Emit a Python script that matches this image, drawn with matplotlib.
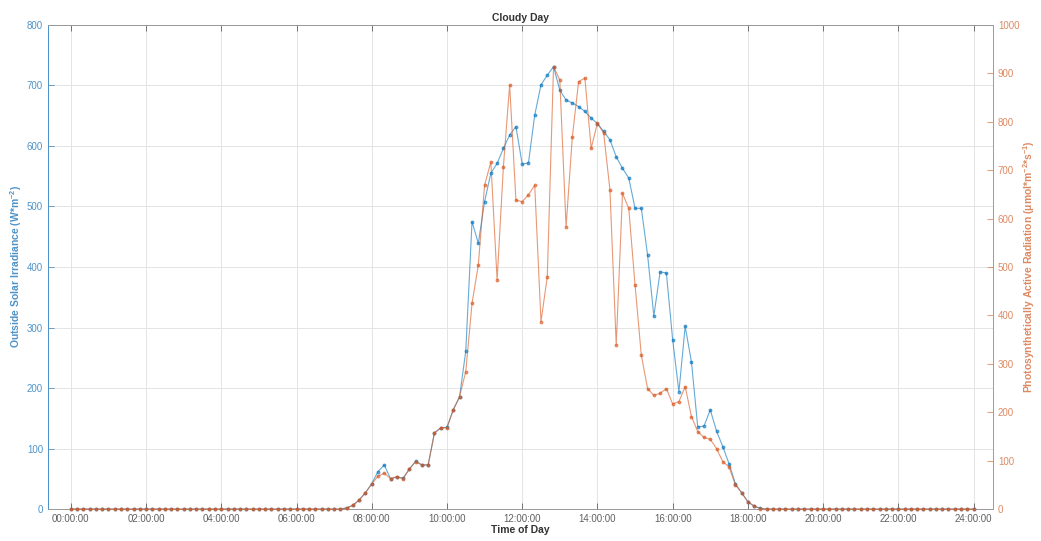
import matplotlib
matplotlib.use("Agg")
import matplotlib.pyplot as plt
import numpy as np
from matplotlib.ticker import FixedLocator, FuncFormatter

plt.rcParams['font.family'] = ['Liberation Sans', 'DejaVu Sans']
plt.rcParams['mathtext.default'] = 'regular'

# samples every 10 minutes, one row per hour (:00 :10 :20 :30 :40 :50)
step_minutes = 10
irradiance = [
    0, 0, 0, 0, 0, 0,          # 00
    0, 0, 0, 0, 0, 0,          # 01
    0, 0, 0, 0, 0, 0,          # 02
    0, 0, 0, 0, 0, 0,          # 03
    0, 0, 0, 0, 0, 0,          # 04
    0, 0, 0, 0, 0, 0,          # 05
    0, 0, 0, 0, 0, 0,          # 06
    0, 0, 2, 6, 15, 27,        # 07
    42, 62, 73, 50, 53, 51,    # 08
    66, 79, 73, 73, 126, 134,  # 09
    135, 164, 185, 261, 475, 439,   # 10
    508, 555, 571, 596, 618, 632,   # 11
    570, 572, 651, 701, 717, 731,   # 12
    692, 676, 671, 665, 657, 646,   # 13
    637, 624, 610, 582, 563, 547,   # 14
    497, 497, 420, 319, 392, 390,   # 15
    280, 194, 302, 243, 136, 137,   # 16
    164, 129, 103, 75, 42, 27,      # 17
    12, 5, 1, 0, 0, 0,         # 18
    0, 0, 0, 0, 0, 0,          # 19
    0, 0, 0, 0, 0, 0,          # 20
    0, 0, 0, 0, 0, 0,          # 21
    0, 0, 0, 0, 0, 0,          # 22
    0, 0, 0, 0, 0, 0,          # 23
    0,                         # 24
]
par = [
    0, 0, 0, 0, 0, 0,          # 00
    0, 0, 0, 0, 0, 0,          # 01
    0, 0, 0, 0, 0, 0,          # 02
    0, 0, 0, 0, 0, 0,          # 03
    0, 0, 0, 0, 0, 0,          # 04
    0, 0, 0, 0, 0, 0,          # 05
    0, 0, 0, 0, 0, 0,          # 06
    0, 0, 2, 8, 19, 34,        # 07
    52, 68, 74, 63, 67, 63,    # 08
    83, 98, 91, 91, 157, 168,  # 09
    168, 205, 232, 284, 425, 504,   # 10
    669, 717, 473, 707, 876, 638,   # 11
    635, 649, 669, 387, 480, 914,   # 12
    886, 583, 769, 883, 890, 745,   # 13
    797, 776, 659, 339, 652, 621,   # 14
    463, 318, 249, 235, 239, 249,   # 15
    217, 222, 253, 191, 160, 148,   # 16
    144, 125, 98, 87, 50, 34,       # 17
    15, 6, 1, 0, 0, 0,         # 18
    0, 0, 0, 0, 0, 0,          # 19
    0, 0, 0, 0, 0, 0,          # 20
    0, 0, 0, 0, 0, 0,          # 21
    0, 0, 0, 0, 0, 0,          # 22
    0, 0, 0, 0, 0, 0,          # 23
    0,                         # 24
]
hour_ticks = list(range(0, 25, 2))

hours = np.arange(len(irradiance)) * step_minutes / 60.0

blue = '#0072BD'
orange = '#D95319'
blue_txt = '#4f93c9'
orange_txt = '#dd8a63'

fig = plt.figure(figsize=(10.41, 5.41), dpi=100)
ax = fig.add_axes([0.046, 0.059, 0.908, 0.895])
ax2 = ax.twinx()

ax.plot(hours, irradiance, color=blue, lw=0.8, alpha=0.6, marker='o',
        ms=2.2, mew=0.6, clip_on=False, zorder=3)
ax2.plot(hours, par, color=orange, lw=0.8, alpha=0.6, marker='o',
         ms=2.2, mew=0.6, clip_on=False, zorder=3)

ax.set_xlim(-0.61, 24.52)
ax.set_ylim(0, 800)
ax2.set_ylim(0, 1000)
ax.set_yticks(np.arange(0, 801, 100))
ax2.set_yticks(np.arange(0, 1001, 100))
ax.xaxis.set_major_locator(FixedLocator(hour_ticks))
ax.xaxis.set_major_formatter(FuncFormatter(lambda v, p: '%02d:00:00' % int(round(v))))

ax.grid(True, color='#e4e4e4', lw=0.7)
ax.set_axisbelow(True)

ax.tick_params(axis='x', direction='in', top=True, labelsize=7,
               colors='#606060', length=4, width=0.6)
ax.tick_params(axis='y', direction='in', labelsize=7, colors=blue_txt,
               length=4, width=0.6)
ax2.tick_params(axis='y', direction='in', labelsize=7, colors=orange_txt,
                length=4, width=0.6)

for a in (ax, ax2):
    a.spines['top'].set_color('#9a9a9a')
    a.spines['bottom'].set_color('#9a9a9a')
    for s in a.spines.values():
        s.set_linewidth(0.7)
ax.spines['left'].set_color(blue_txt)
ax2.spines['left'].set_color(blue_txt)
ax2.spines['right'].set_color(orange_txt)
ax.spines['right'].set_color(orange_txt)

ax.set_title('Cloudy Day', fontsize=7.5, fontweight='bold', color='#333333', pad=3)
ax.set_xlabel('Time of Day', fontsize=7.5, fontweight='bold', color='#333333', labelpad=1)
ax.set_ylabel('Outside Solar Irradiance (W*m$^{-2}$)', fontsize=7.5,
              fontweight='bold', color=blue_txt, labelpad=2)
ax2.set_ylabel('Photosynthetically Active Radiation (μmol*m$^{-2}$*s$^{-1}$)',
               fontsize=7.5, fontweight='bold', color=orange_txt, labelpad=1)

fig.savefig('out.png', dpi=100)
